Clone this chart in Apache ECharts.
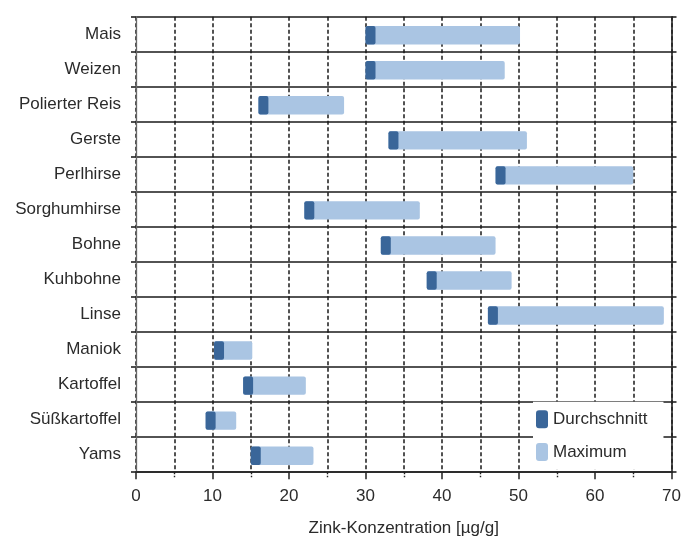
<!DOCTYPE html>
<html>
<head>
<meta charset="utf-8">
<script src="https://cdn.jsdelivr.net/npm/echarts@6/dist/echarts.min.js"></script>
<style>
html,body{margin:0;padding:0;background:#fff;}
#chart{width:698px;height:538px;}
</style>
</head>
<body>
<div id="chart"></div>
<script>
const categories = ['Mais','Weizen','Polierter Reis','Gerste','Perlhirse','Sorghumhirse','Bohne','Kuhbohne','Linse','Maniok','Kartoffel','Süßkartoffel','Yams'];
const durchschnitt = [30.0, 30.0, 16.0, 33.0, 47.0, 22.0, 32.0, 38.0, 46.0, 10.2, 14.0, 9.1, 15.0];
const maximum = [50.2, 48.2, 27.2, 51.1, 65.0, 37.1, 47.0, 49.1, 69.0, 15.2, 22.2, 13.1, 23.2];
const xTicks = [0, 10, 20, 30, 40, 50, 60, 70];

const DARK = '#3a6699';
const LIGHT = '#aac5e3';
const FONT = 'Liberation Sans, Arial, sans-serif';
const TEXT = '#2b2b2b';
const MARKER_PX = 10;
const BAR_FRAC = 0.525;
const FS = 17;

const data = categories.map((c, i) => [durchschnitt[i], i, maximum[i]]);

function renderMax(params, api) {
  const a = api.coord([api.value(0), api.value(1)]);
  const b = api.coord([api.value(2), api.value(1)]);
  const h = api.size([0, 1])[1] * BAR_FRAC;
  return {
    type: 'rect',
    shape: { x: a[0], y: a[1] - h / 2 + 1, width: b[0] - a[0], height: h, r: 2 },
    style: { fill: LIGHT }
  };
}
function renderAvg(params, api) {
  const a = api.coord([api.value(0), api.value(1)]);
  const h = api.size([0, 1])[1] * BAR_FRAC;
  return {
    type: 'rect',
    shape: { x: a[0], y: a[1] - h / 2 + 1, width: MARKER_PX, height: h, r: 2 },
    style: { fill: DARK }
  };
}

const chart = echarts.init(document.getElementById('chart'), null, { renderer: 'canvas' });
chart.setOption({
  animation: false,
  backgroundColor: '#fff',
  textStyle: { fontFamily: FONT },
  grid: { left: 136, right: 26.5, top: 16.7, bottom: 65.8, containLabel: false, outerBoundsMode: 'none' },
  legend: {
    orient: 'vertical',
    left: 533, top: 401.7,
    padding: [8.6, 16, 8.6, 3],
    backgroundColor: '#fff',
    itemWidth: 12, itemHeight: 18, itemGap: 14.6,
    icon: 'roundRect',
    textStyle: { fontSize: FS, color: TEXT, fontFamily: FONT },
    data: [
      { name: 'Durchschnitt', itemStyle: { color: DARK } },
      { name: 'Maximum', itemStyle: { color: LIGHT } }
    ]
  },
  xAxis: {
    type: 'value',
    min: xTicks[0], max: xTicks[xTicks.length - 1], interval: 10,
    name: 'Zink-Konzentration [µg/g]',
    nameLocation: 'middle', nameGap: 48,
    nameTextStyle: { fontSize: FS, color: TEXT, fontFamily: FONT },
    axisLine: { show: true, lineStyle: { color: '#222', width: 1.6 } },
    axisTick: { show: true, length: 7, lineStyle: { color: '#222', width: 1.5 } },
    minorTick: { show: true, splitNumber: 2, length: 5, lineStyle: { color: '#222', width: 1.4, type: [2, 1.5] } },
    axisLabel: { fontSize: FS, color: TEXT, margin: 16, fontFamily: FONT },
    splitLine: { show: true, lineStyle: { color: '#1a1a1a', width: 1.5, type: [4, 2.5] } },
    minorSplitLine: { show: true, lineStyle: { color: '#1a1a1a', width: 1.5, type: [4, 2.5] } }
  },
  yAxis: [
    {
      type: 'category', data: categories, inverse: true,
      boundaryGap: true,
      axisLine: { show: true, lineStyle: { color: '#666', width: 1.3 } },
      axisTick: { show: true, length: 5, lineStyle: { color: '#222', width: 1.6 } },
      axisLabel: { fontSize: FS, color: TEXT, margin: 15, fontFamily: FONT },
      splitLine: { show: true, lineStyle: { color: '#1a1a1a', width: 1.7 } }
    },
    {
      type: 'category', data: categories, inverse: true, position: 'right',
      boundaryGap: true,
      axisLine: { show: true, lineStyle: { color: '#222', width: 1.6 } },
      axisTick: { show: true, length: 5, lineStyle: { color: '#222', width: 1.6 } },
      axisLabel: { show: false },
      splitLine: { show: false }
    }
  ],
  series: [
    {
      name: 'Maximum', type: 'custom', renderItem: renderMax,
      itemStyle: { color: LIGHT },
      encode: { x: [0, 2], y: 1 },
      data: data, z: 3
    },
    {
      name: 'Durchschnitt', type: 'custom', renderItem: renderAvg,
      itemStyle: { color: DARK },
      encode: { x: 0, y: 1 },
      data: data, z: 4
    }
  ]
});
</script>
</body>
</html>
